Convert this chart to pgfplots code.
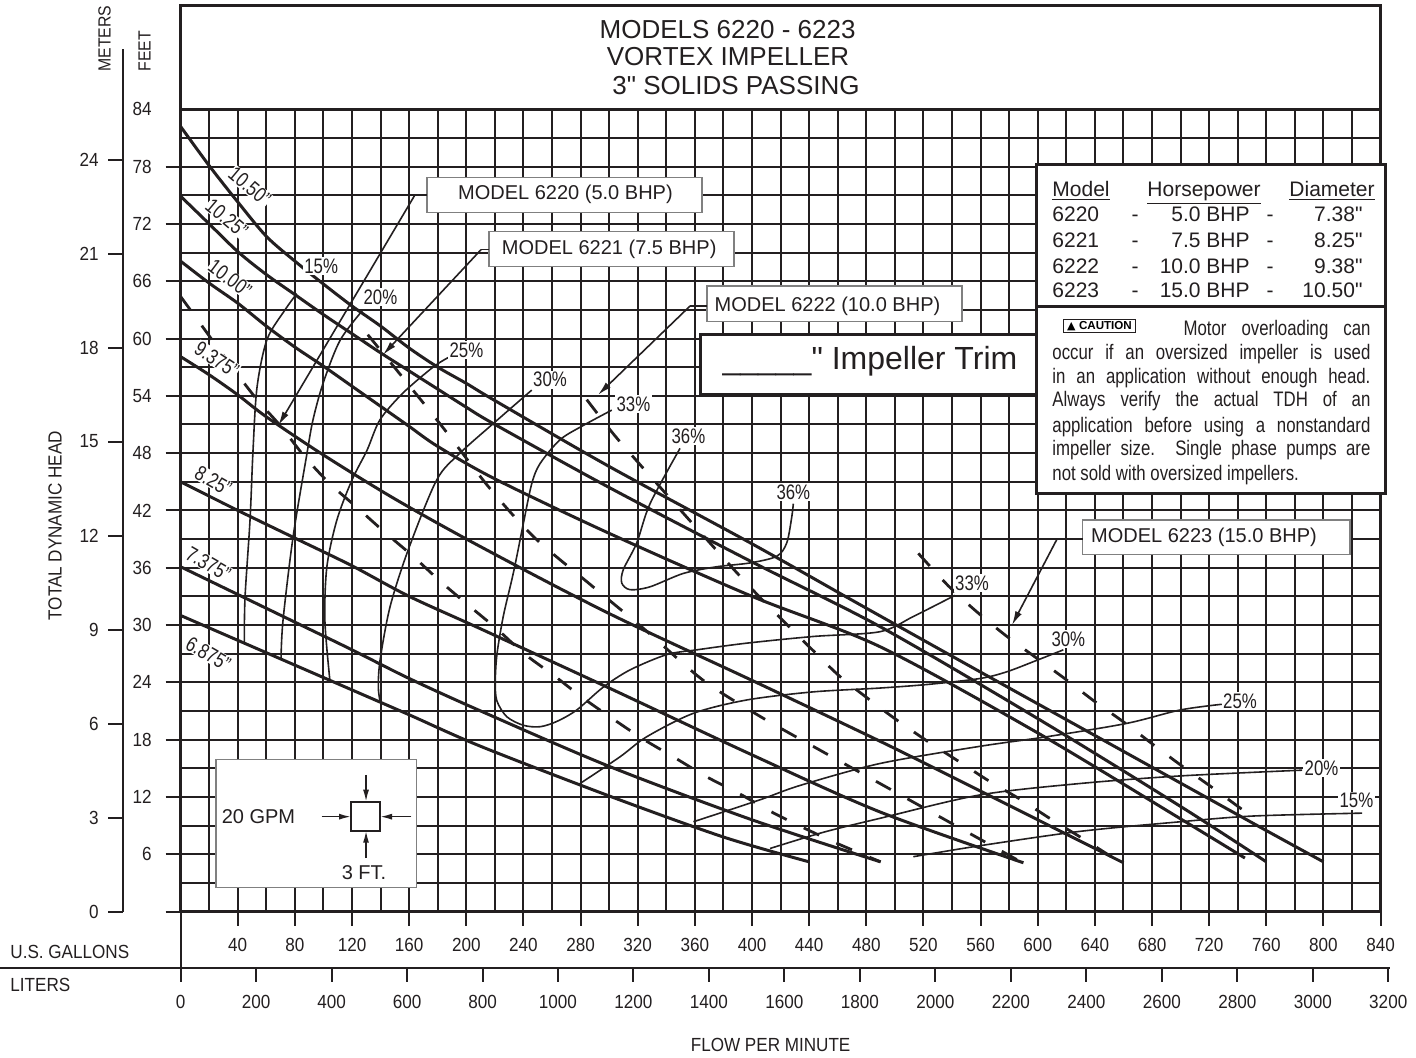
\documentclass[border=0pt]{standalone}
\usepackage{fontspec}
\setmainfont{Liberation Sans}[Ligatures=TeXOff]
\newfontfamily\narrow{Liberation Sans}[FakeStretch=0.8,Ligatures=TeXOff]
\newfontfamily\semi{Liberation Sans}[FakeStretch=0.9,Ligatures=TeXOff]
\newfontfamily\dejavu{DejaVu Sans}
\usepackage{pgfplots}
\pgfplotsset{compat=1.18}
\usetikzlibrary{arrows.meta}
\definecolor{ink}{HTML}{231F20}
\tikzset{
  diam/.style={draw=ink, line width=1.5pt, smooth, no markers},
  eff/.style={draw=ink, line width=0.8pt, smooth, no markers},
  hp/.style={draw=ink, line width=1.4pt, dash pattern=on 8.5pt off 9.5pt, smooth, no markers},
  tl/.style={font=\semi\fontsize{9.5}{10}\selectfont, text=ink, inner sep=0pt},
  el/.style={font=\narrow\fontsize{10.5}{11}\selectfont, text=ink, fill=white, inner sep=0.8pt},
  dl/.style={font=\narrow\fontsize{10.5}{11}\selectfont, text=ink, fill=white, inner sep=0.3pt},
  mbox/.style={draw=gray, line width=0.6pt, fill=white},
  lead/.style={draw=ink, line width=0.8pt},
}
\begin{document}
\begin{tikzpicture}
\path[use as bounding box] (-90.3pt,-72.75pt) rectangle (617.7pt,455.75pt);
\begin{axis}[
  scale only axis, width=600pt, height=401.1pt,
  xmin=0, xmax=840, ymin=0, ymax=84,
  xtick={0,20,...,840}, ytick={0,3,...,84},
  xticklabels={}, yticklabels={},
  major tick length=0pt,
  grid=major,
  major grid style={draw=ink, line width=1pt},
  axis line style={draw=ink, line width=1.5pt},
  clip=false,
]
% impeller diameters
\addplot[diam] coordinates {(0,82.2)(20,78.1)(40,74.3)(60,70.7)(80,68.1)(100,65.7)(120,63.4)(140,61.3)(160,59)(180,57)(200,55.3)(220,53.5)(300,46.6)(400,38.5)(470,32.6)(550,25.9)(650,17.6)(750,9.3)(800,5.2)};
\addplot[diam] coordinates {(0,74.9)(20,72.0)(40,69.1)(60,66.7)(80,64.6)(100,62.5)(120,60.5)(140,58.5)(160,56.6)(180,54.7)(200,52.8)(220,51.0)(300,44.4)(400,36.6)(490,29.8)(600,20.2)(700,11)(760,5.2)};
\addplot[diam] coordinates {(0,68.1)(20,65.8)(40,63.7)(60,61.3)(80,59.1)(100,57.1)(120,55)(140,52.9)(160,50.8)(180,48.7)(220,45.3)(300,39.6)(400,33)(490,27.7)(600,18.7)(700,9.7)(745,5.6)};
\addplot[diam] coordinates {(0,58.1)(20,56.2)(40,54.1)(60,51.8)(100,47.8)(150,43.2)(210,38.2)(300,31.2)(400,24.2)(490,17.8)(560,12.6)(660,5.1)};
\addplot[diam] coordinates {(0,45)(40,42)(80,39.1)(120,36.2)(160,33)(210,29.6)(300,23.4)(400,16.4)(490,10.4)(590,5.1)};
\addplot[diam] coordinates {(0,36.1)(40,33.2)(80,30.3)(120,27.4)(160,24.4)(210,21.0)(300,15.2)(400,9.6)(490,5.2)};
\addplot[diam] coordinates {(0,31)(40,28.4)(80,25.8)(120,23.2)(160,20.6)(210,17.3)(300,12.1)(380,7.8)(440,5.2)};
% horsepower limits
\addplot[hp] coordinates {(0,64.4)(17,60.9)(35,57.2)(53.5,53.6)(69.6,50.9)(87,47.6)(104.5,44.8)(123.5,42.3)(143,39.7)(162.7,37.2)(181.6,34.6)(201.2,32.1)(221.3,29.6)(240.5,27.0)(261.4,24.7)(281.3,22.4)(302.3,20.2)(324.4,18.0)(346,16.1)(368.3,14.1)(391.6,12.3)(414,10.4)(437,8.7)(460,7.1)(490,5.2)};
\addplot[hp] coordinates {(131,60.4)(151.8,56.6)(183,50.8)(215.4,44.5)(247.4,39.2)(287.1,34.2)(326.7,29.3)(365.9,24.2)(406,20.4)(449.9,16.7)(489.6,13.4)(531.6,9.9)(590,5.05)};
\addplot[hp] coordinates {(284.3,53.6)(303,50)(319.8,47.1)(354.3,41.3)(372.3,38.3)(388.6,35.6)(406.1,32.8)(424.8,30.0)(442.9,27.3)(461.6,24.6)(483.8,22.0)(501.8,20.0)(523.1,17.8)(544.9,15.7)(566.6,13.6)(588.3,11.7)(610,9.6)(631.9,7.6)(655,5.4)};
\addplot[hp] coordinates {(516.4,37.5)(537.4,34.1)(557.2,31.4)(577.6,28.9)(598.6,26.6)(618.8,24.4)(639.8,22.0)(660.5,19.8)(681.5,17.4)(702.2,15.1)(722.9,12.9)(743.9,10.6)(751,10.0)};
% efficiency
\addplot[eff] coordinates {(81.3,64.7)(73.1,63.0)(60.5,59.9)(53.5,54.9)(50.7,48.3)(48.6,41.0)(45.1,32.9)(44.6,28.1)};
\addplot[eff] coordinates {(127.7,63.0)(111.6,59.8)(99.7,55.3)(92.7,51.5)(88.5,48.0)(78.7,39.2)(71.7,30.5)(70.3,26.5)};
\addplot[eff] coordinates {(187.3,58.0)(176.7,57.0)(155.7,54.3)(139.6,51.5)(130.5,48.3)(120,45.2)(109.4,41.0)(102.4,36.1)(101,30.5)(104.5,24.2)};
\addplot[eff] coordinates {(245.8,54.6)(218.9,51.1)(195.6,48.0)(179.3,45.2)(159.4,37.9)(146.6,31.9)(139.6,26.3)(138.4,23.5)(139.6,22.0)};
\addplot[eff] coordinates {(301.8,52.5)(281.9,50.9)(265.6,49.4)(251.6,46.9)(245.8,44.8)(239.9,40.6)(233,35.5)(226,31)(221.5,27)(220.3,24.2)(221.3,22.1)(228.3,20.4)(239.9,19.5)(251.6,19.35)(263.3,19.9)(277.3,21.1)(295.9,23.5)(314.6,25.3)(340.3,26.9)(361.3,27.4)(396.3,28.1)(442.9,28.8)(489.6,29.3)(513,30.9)(542,33.1)};
\addplot[eff] coordinates {(349.6,48.5)(328.6,42.7)(319.3,38.6)(309.9,35.8)(308.8,34.4)(314.6,33.7)(328.6,34.0)(351.9,35.4)(375.3,36.1)(398.6,36.5)(417.3,37.2)(424.3,38.6)(427.8,41.3)(428.9,42.7)};
\addplot[eff] coordinates {(279.6,13.4)(307.6,16.2)(326.3,18.3)(358.9,20.75)(396.3,22.15)(442.9,23.0)(489.6,23.4)(524.6,23.8)(559.6,24.4)(578.3,25.1)(599.3,26.3)(617.9,27.4)};
\addplot[eff] coordinates {(359,9.4)(405.6,11.7)(433.6,13.2)(489.6,15.5)(559.6,17.3)(606.3,18.3)(662.3,19.7)(699.6,21.1)(728.8,21.7)};
\addplot[eff] coordinates {(412.6,6.6)(450,8.3)(489.6,9.76)(559.3,12.2)(629.3,13.4)(700,14.2)(785,14.8)};
\addplot[eff] coordinates {(512.9,5.74)(560,6.9)(630,8.4)(700,9.4)(751,10.0)(827,10.3)};
\end{axis}
\begin{scope}[x=0.7142857pt, y=4.775pt]
% title box
\draw[ink, line width=1.5pt, fill=white] (0,84) rectangle (840,94.9);
\node[text=ink, font=\fontsize{13}{15}\selectfont, inner sep=0] at (382.9,92.3) {MODELS 6220 - 6223};
\node[text=ink, font=\fontsize{13}{15}\selectfont, inner sep=0] at (383.2,89.5) {VORTEX IMPELLER};
\node[text=ink, font=\fontsize{13}{15}\selectfont, inner sep=0] at (388.8,86.5) {3" SOLIDS PASSING};
% feet axis
\foreach \f in {6,12,...,84} \node[tl, anchor=east] at (-20,\f) {\f};
\foreach \f in {0,6,...,78} \draw[ink, line width=1pt] (-10.5,\f) -- (0,\f);
% meters axis
\draw[ink, line width=1pt] (-40.1,0) -- (-40.1,90.3);
\foreach \m in {0,3,...,24} {
  \draw[ink, line width=1pt] (-50.5,\m*3.28084) -- (-40.1,\m*3.28084);
  \node[tl, anchor=east] at (-57.1,\m*3.28084) {\m};
}
\node[tl, font=\semi\fontsize{8.8}{10}\selectfont, rotate=90, anchor=west] at (-53.3,87.9) {METERS};
\node[tl, font=\semi\fontsize{8.8}{10}\selectfont, rotate=90, anchor=west] at (-25.3,87.9) {FEET};
\node[tl, rotate=90] at (-87.9,40.4) {TOTAL DYNAMIC HEAD};
% gallons axis
\foreach \g in {40,80,...,840} {
  \draw[ink, line width=1pt] (\g,0) -- (\g,-1.52);
  \node[tl] at (\g,-3.5) {\g};
}
\draw[ink, line width=1pt] (0,0) -- (0,-5.88);
\draw[ink, line width=1pt] (-126.4,-5.88) -- (846.6,-5.88);
\foreach \l in {0,200,...,3200} {
  \draw[ink, line width=1pt] (\l/3.78541,-5.88) -- (\l/3.78541,-7.38);
  \node[tl] at (\l/3.78541,-9.48) {\l};
}
\node[tl, anchor=west] at (-119.4,-4.24) {U.S. GALLONS};
\node[tl, anchor=west] at (-119.4,-7.7) {LITERS};
\node[tl] at (413,-14.0) {FLOW PER MINUTE};
% diameter labels
\node[dl, rotate=-40] at (48.4,75.9) {10.50”};
\node[dl, rotate=-40] at (32.4,72.6) {10.25”};
\node[dl, rotate=-37] at (34.6,66.3) {10.00”};
\node[dl, rotate=-33] at (25.3,57.8) {9.375”};
\node[dl, rotate=-30] at (22.9,45.1) {8.25”};
\node[dl, rotate=-30] at (19.4,36.4) {7.375”};
\node[dl, rotate=-30] at (19.4,27.0) {6.875”};
% efficiency labels
\node[el] at (98.4,67.6) {15\%};
\node[el] at (139.9,64.3) {20\%};
\node[el] at (200.1,58.8) {25\%};
\node[el] at (258.6,55.7) {30\%};
\node[el] at (317,53.1) {33\%};
\node[el] at (355.5,49.8) {36\%};
\node[el] at (428.9,43.9) {36\%};
\node[el] at (554,34.4) {33\%};
\node[el] at (621.4,28.5) {30\%};
\node[el] at (741.6,22.0) {25\%};
\node[el] at (798.6,15.0) {20\%};
\node[el] at (823.1,11.6) {15\%};
% model call-outs
\draw[mbox] (172.5,73.2) rectangle (365,76.9);
\node[text=ink, font=\fontsize{10}{12}\selectfont] at (269.4,75.05) {MODEL 6220 (5.0 BHP)};
\draw[lead] (172.5,75.05) -- (164.1,75.05);
\draw[lead, -{Latex[length=7pt,width=3.5pt]}] (164.1,75.05) -- (68.4,50.9);
\draw[mbox] (215.9,67.5) rectangle (387.4,71.2);
\node[text=ink, font=\fontsize{10}{12}\selectfont] at (300,69.3) {MODEL 6221 (7.5 BHP)};
\draw[lead] (215.9,69.3) -- (210.3,69.3);
\draw[lead, -{Latex[length=7pt,width=3.5pt]}] (210.3,69.3) -- (141.7,58.3);
\draw[mbox] (368.5,61.8) rectangle (547,65.5);
\node[text=ink, font=\fontsize{10}{12}\selectfont] at (452.8,63.4) {MODEL 6222 (10.0 BHP)};
\draw[lead] (368.5,63.4) -- (356.6,63.4);
\draw[lead, -{Latex[length=7pt,width=3.5pt]}] (356.6,63.4) -- (292.2,54.1);
\draw[mbox] (631.5,37.4) rectangle (818.6,41.0);
\node[text=ink, font=\fontsize{10}{12}\selectfont] at (716.4,39.2) {MODEL 6223 (15.0 BHP)};
\draw[lead] (631.5,39.0) -- (613.5,39.0);
\draw[lead, -{Latex[length=7pt,width=3.5pt]}] (613.5,39.0) -- (582,30.0);
% impeller trim box
\draw[ink, line width=1.5pt, fill=white] (364.1,54.1) rectangle (599.3,60.4);
\node[text=ink, anchor=mid west, font=\fontsize{16}{18}\selectfont, inner sep=0] at (379.1,57.3) {\_\_\_\_\_" Impeller Trim};
% model table and caution
\draw[ink, line width=1.5pt, fill=white] (599.3,43.8) rectangle (843.1,78.2);
\draw[ink, line width=1.5pt] (599.3,63.4) -- (843.1,63.4);
\begin{scope}[every node/.style={text=ink, inner sep=0, font=\fontsize{10.5}{12}\selectfont}]
\node[anchor=mid west] at (610,75.4) {\underline{Model}};
\node[anchor=mid west] at (676.5,75.4) {\underline{Horsepower}};
\node[anchor=mid west] at (775.9,75.4) {\underline{Diameter}};
\foreach \y/\m/\h/\d in {72.8/6220/5.0/7.38, 70.1/6221/7.5/8.25, 67.4/6222/10.0/9.38, 64.8/6223/15.0/10.50} {
  \node[anchor=mid west] at (610,\y) {\m};
  \node[anchor=mid] at (668.1,\y) {-};
  \node[anchor=mid east] at (748.6,\y) {\h\ BHP};
  \node[anchor=mid] at (762.6,\y) {-};
  \node[anchor=mid east] at (827.6,\y) {\d"};
}
\end{scope}
\node[draw=ink, line width=0.6pt, fill=white, inner xsep=2pt, inner ysep=1pt, anchor=west] at (617.4,61.3)
  {{\dejavu\fontsize{5.5}{6}\selectfont ▲}\,{\bfseries\fontsize{5.8}{6}\selectfont CAUTION}};
\begin{scope}[every node/.style={text=ink, inner sep=0, anchor=mid west, font=\narrow\fontsize{10.5}{12}\selectfont}]
\node at (701.8,60.9) {\hbox to 93.5pt{Motor overloading can}};
\node at (610,58.4) {\hbox to 159pt{occur if an oversized impeller is used}};
\node at (610,55.8) {\hbox to 159pt{in an application without enough head.}};
\node at (610,53.4) {\hbox to 159pt{Always verify the actual TDH of an}};
\node at (610,50.7) {\hbox to 159pt{application before using a nonstandard}};
\node at (610,48.3) {\hbox to 159pt{impeller size. Single phase pumps are}};
\node at (610,45.7) {not sold with oversized impellers.};
\end{scope}
% scale legend
\draw[draw=gray, line width=0.6pt, fill=white] (24.8,2.5) rectangle (165.3,15.9);
\node[text=ink, font=\fontsize{10}{12}\selectfont] at (54.5,9.93) {20 GPM};
\draw[ink, line width=1pt] (119.3,8.46) rectangle (139.6,11.5);
\draw[lead, -{Latex[length=6pt,width=3pt]}] (98.8,9.93) -- (119.3,9.93);
\draw[lead, -{Latex[length=6pt,width=3pt]}] (161.6,9.93) -- (139.6,9.93);
\draw[lead, -{Latex[length=6pt,width=3pt]}] (129.8,14.3) -- (129.8,11.5);
\draw[lead, -{Latex[length=6pt,width=3pt]}] (129.8,5.6) -- (129.8,8.46);
\node[text=ink, font=\fontsize{10}{12}\selectfont] at (128.4,4.03) {3 FT.};
\end{scope}
\end{tikzpicture}
\end{document}
